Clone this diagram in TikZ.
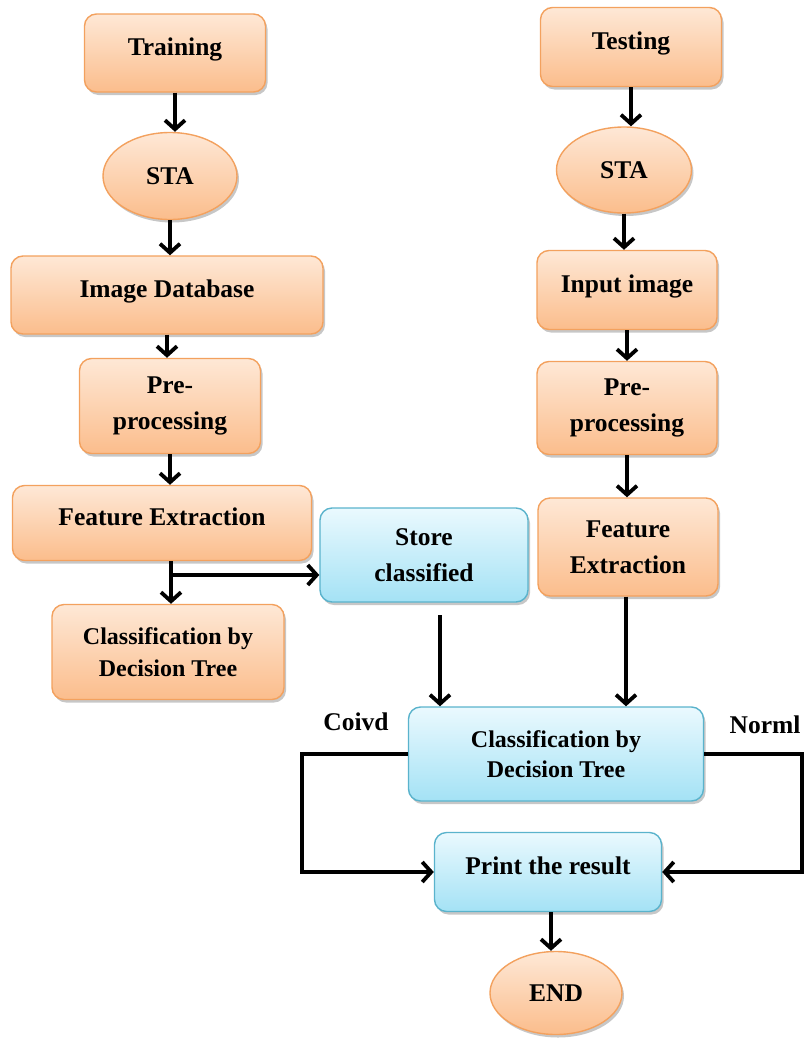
\documentclass[tikz,border=0pt]{standalone}
\usepackage{fontspec}
\setmainfont{Liberation Serif}
\usetikzlibrary{shapes.geometric,arrows.meta,shadows}
\definecolor{orTop}{HTML}{FEE8D6}
\definecolor{orBot}{HTML}{FBBD8C}
\definecolor{orLine}{HTML}{F3A15E}
\definecolor{blTop}{HTML}{EAF9FE}
\definecolor{blBot}{HTML}{A4E2F5}
\definecolor{blLine}{HTML}{5AB3CC}
\tikzset{
  txt/.style={font=\fontsize{25.5}{36}\selectfont\bfseries, align=center},
  shad/.style={drop shadow={shadow xshift=2pt, shadow yshift=-3pt, opacity=0.22, fill=black}},
  obox/.style={txt, shad, rectangle, rounded corners=12pt, draw=orLine, line width=1.4pt,
    top color=orTop, bottom color=orBot, inner sep=2pt},
  bbox/.style={txt, shad, rectangle, rounded corners=12pt, draw=blLine, line width=1.4pt,
    top color=blTop, bottom color=blBot, inner sep=2pt},
  oell/.style={txt, shad, ellipse, draw=orLine, line width=1.4pt,
    top color=orTop, bottom color=orBot, inner sep=0pt},
  one/.style={text height=18pt, text depth=14pt},
  arr/.style={line width=3.8pt, -{Straight Barb[length=9pt,width=20pt]}},
  lbl/.style={txt}
}
\begin{document}
\begin{tikzpicture}[x=1pt,y=-1pt]
\useasboundingbox (0,0) rectangle (805,1039);
% left column
\node[obox, one, minimum width=181pt, minimum height=78pt] (tr) at (175,53) {Training};
\node[oell, minimum width=134pt, minimum height=87pt] (sta1) at (170,176) {STA};
\node[obox, one, minimum width=312pt, minimum height=78pt] (idb) at (167,295) {Image Database};
\node[obox, minimum width=181pt, minimum height=95pt] (pre1) at (170,406) {Pre-\\processing};
\node[obox, one, minimum width=299pt, minimum height=75pt] (fe1) at (162,523) {Feature Extraction};
\node[obox, font=\fontsize{24}{32}\selectfont\bfseries, minimum width=232pt, minimum height=95pt] (cl1) at (168,652) {Classification by\\Decision Tree};
% middle
\node[bbox, minimum width=208pt, minimum height=94pt] (st) at (424,555) {Store\\classified};
% right column
\node[obox, one, minimum width=181pt, minimum height=79pt] (te) at (631,47) {Testing};
\node[oell, minimum width=135pt, minimum height=86pt] (sta2) at (624,170) {STA};
\node[obox, one, minimum width=180pt, minimum height=79pt] (inp) at (627,290) {Input image};
\node[obox, minimum width=180pt, minimum height=93pt] (pre2) at (627,408) {Pre-\\processing};
\node[obox, minimum width=180pt, minimum height=98pt] (fe2) at (628,547) {Feature\\Extraction};
% bottom
\node[bbox, font=\fontsize{24}{30}\selectfont\bfseries, minimum width=295pt, minimum height=94pt] (cdt) at (556,754) {Classification by\\Decision Tree};
\node[bbox, one, minimum width=227pt, minimum height=79pt] (pr) at (548,872) {Print the result};
\node[oell, minimum width=132pt, minimum height=83pt] (en) at (556,993) {END};
% labels
\node[lbl] (coivd) at (356,722) {Coivd};
\node[lbl] (norml) at (765,725) {Norml};
% helper coordinates
\coordinate (br) at (171,575);
\coordinate (sc) at (440,615);
\coordinate (lc) at (302,754);
\coordinate (rc) at (802,754);
% arrows left
\draw[arr] (tr.south) -- (tr.south |- sta1.north);
\draw[arr] (sta1.south) -- (sta1.south |- idb.north);
\draw[arr] (idb.south) -- (idb.south |- pre1.north);
\draw[arr] (pre1.south) -- (pre1.south |- fe1.north);
\draw[arr] (br |- fe1.south) -- (br |- cl1.north);
\draw[arr] (br) -- (br -| st.west);
% arrows right
\draw[arr] (te.south) -- (te.south |- sta2.north);
\draw[arr] (sta2.south) -- (sta2.south |- inp.north);
\draw[arr] (inp.south) -- (inp.south |- pre2.north);
\draw[arr] (pre2.south) -- (pre2.south |- fe2.north);
\draw[arr] ([xshift=-2pt]fe2.south) -- ([xshift=-2pt]fe2.south |- cdt.north);
\draw[arr] (sc) -- (sc |- cdt.north);
% outputs
\draw[arr] (cdt.west) -- (lc) |- (pr.west);
\draw[arr] (cdt.east) -- (rc) |- (pr.east);
\draw[arr] ([xshift=3pt]pr.south) -- ([xshift=3pt]pr.south |- en.north);
\end{tikzpicture}
\end{document}
